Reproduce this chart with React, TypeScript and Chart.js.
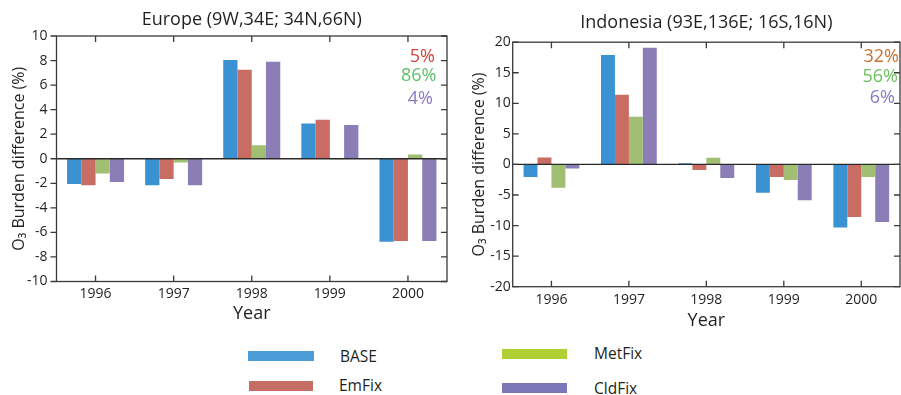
import React, { useEffect, useRef } from "react";
import { Chart, registerables } from "chart.js";

Chart.register(...registerables);

// ---------- data ----------
const years = ["1996", "1997", "1998", "1999", "2000"];
const seriesNames = ["BASE", "EmFix", "MetFix", "CldFix"];

const europeBase = [-2.05, -2.15, 8.05, 2.87, -6.77];
const europeEmFix = [-2.15, -1.65, 7.25, 3.17, -6.7];
const europeMetFix = [-1.2, -0.3, 1.1, -0.05, 0.35];
const europeCldFix = [-1.9, -2.15, 7.9, 2.74, -6.7];

const indoBase = [-2.05, 17.9, 0.2, -4.65, -10.3];
const indoEmFix = [1.15, 11.4, -0.9, -2.05, -8.6];
const indoMetFix = [-3.8, 7.8, 1.1, -2.55, -2.05];
const indoCldFix = [-0.65, 19.1, -2.2, -5.85, -9.4];

const europeTitle = "Europe (9W,34E; 34N,66N)";
const indoTitle = "Indonesia (93E,136E; 16S,16N)";
const yTitle = "O\u2083 Burden difference (%)";
const xTitle = "Year";

const europeShares = ["5%", "86%", "4%"];
const europeShareColors = ["#d2413a", "#5cbf68", "#8a78c4"];
const indoShares = ["32%", "56%", "6%"];
const indoShareColors = ["#c8702e", "#6cc05c", "#8a78c4"];

const barColors = ["#3b92d2", "#c86c64", "#a1bf72", "#8b7db5"];
const legendColors = ["#4a9bd6", "#c66d66", "#b0d136", "#7b77b8"];

const FONT = "'Open Sans', 'Noto Sans', sans-serif";
const TEXT = "#231f20";

const framePlugin = {
  id: "frame",
  afterDatasetsDraw(chart: any, _args: any, opts: any) {
    const { ctx, chartArea: a, scales } = chart;
    const xs = scales.x;
    const ys = scales.y;
    ctx.save();
    ctx.lineWidth = 1.3;
    ctx.strokeStyle = "#2a2a2a";
    const zy = ys.getPixelForValue(0);
    ctx.beginPath();
    ctx.moveTo(a.left, zy);
    ctx.lineTo(a.right, zy);
    ctx.stroke();

    ctx.strokeStyle = "#3a3a3a";
    ctx.strokeRect(a.left, a.top, a.right - a.left, a.bottom - a.top);
    const tl = 6;
    ys.ticks.forEach((t: any) => {
      const py = ys.getPixelForValue(t.value);
      ctx.beginPath();
      if (opts.yTickOut) {
        ctx.moveTo(a.left - tl, py);
        ctx.lineTo(a.left, py);
      } else {
        ctx.moveTo(a.left, py);
        ctx.lineTo(a.left + tl, py);
      }
      ctx.moveTo(a.right - tl, py);
      ctx.lineTo(a.right, py);
      ctx.stroke();
    });
    xs.ticks.forEach((_t: any, i: number) => {
      const px = xs.getPixelForValue(i);
      ctx.beginPath();
      ctx.moveTo(px, a.bottom);
      ctx.lineTo(px, a.bottom - tl);
      ctx.moveTo(px, a.top);
      ctx.lineTo(px, a.top + tl);
      ctx.stroke();
    });

    ctx.font = `18px ${FONT}`;
    ctx.textAlign = "right";
    ctx.textBaseline = "middle";
    (opts.shares || []).forEach((s: string, i: number) => {
      ctx.fillStyle = opts.shareColors[i];
      ctx.fillText(s, a.right - opts.shareRight[i], opts.shareY[i]);
    });
    ctx.restore();
  },
};

type PanelCfg = {
  title: string;
  values: number[][];
  min: number;
  max: number;
  step: number;
  titlePad: { top: number; bottom: number };
  yWidth: number;
  xHeight: number;
  padRight: number;
  yTitlePad: number;
  yTickPad: number;
  yTickOut: boolean;
  xTickPad: number;
  xTitlePadBottom: number;
  catPct: number;
  shares: string[];
  shareColors: string[];
  shareRight: number[];
  shareY: number[];
};

function Panel({ cfg, width, height, left }: { cfg: PanelCfg; width: number; height: number; left: number }) {
  const ref = useRef<HTMLCanvasElement | null>(null);
  useEffect(() => {
    if (!ref.current) return;
    const chart = new Chart(ref.current, {
      type: "bar",
      data: {
        labels: years,
        datasets: cfg.values.map((v, i) => ({
          label: seriesNames[i],
          data: v,
          backgroundColor: barColors[i],
          borderWidth: 0,
          barPercentage: 1,
          categoryPercentage: cfg.catPct,
        })),
      },
      options: {
        responsive: false,
        animation: false,
        devicePixelRatio: 1,
        layout: { padding: { left: 0, right: cfg.padRight, top: 0, bottom: 0 } },
        plugins: {
          legend: { display: false },
          tooltip: { enabled: false },
          title: {
            display: true,
            text: cfg.title,
            fullSize: false,
            color: TEXT,
            font: { family: FONT, size: 18, weight: "normal", lineHeight: 1.2 },
            padding: cfg.titlePad,
          },
          frame: {
            yTickOut: cfg.yTickOut,
            shares: cfg.shares,
            shareColors: cfg.shareColors,
            shareRight: cfg.shareRight,
            shareY: cfg.shareY,
          },
        } as any,
        scales: {
          x: {
            grid: { display: false, drawTicks: false },
            border: { display: false },
            ticks: { color: TEXT, font: { family: FONT, size: 14 }, padding: cfg.xTickPad, maxRotation: 0 },
            title: {
              display: true,
              text: xTitle,
              color: TEXT,
              font: { family: FONT, size: 18, lineHeight: 1.2 },
              padding: { top: 0, bottom: cfg.xTitlePadBottom },
            },
            afterFit: (s: any) => {
              s.height = cfg.xHeight;
            },
          },
          y: {
            min: cfg.min,
            max: cfg.max,
            grid: { display: false, drawTicks: false },
            border: { display: false },
            ticks: {
              stepSize: cfg.step,
              color: TEXT,
              font: { family: FONT, size: 14 },
              padding: cfg.yTickPad,
            },
            title: {
              display: true,
              text: yTitle,
              color: TEXT,
              font: { family: FONT, size: 16, lineHeight: 1.2 },
              padding: { top: cfg.yTitlePad, bottom: 0 },
            },
            afterFit: (s: any) => {
              s.width = cfg.yWidth;
            },
          },
        },
      },
      plugins: [framePlugin],
    });
    return () => chart.destroy();
  }, [cfg]);
  return (
    <canvas
      ref={ref}
      width={width}
      height={height}
      style={{ position: "absolute", left, top: 0, width, height }}
    />
  );
}

const europeCfg: PanelCfg = {
  title: europeTitle,
  values: [europeBase, europeEmFix, europeMetFix, europeCldFix],
  min: -10,
  max: 10,
  step: 2,
  titlePad: { top: 9, bottom: 5.4 },
  yWidth: 56.5,
  xHeight: 48.5,
  padRight: 3,
  yTitlePad: 9.4,
  yTickPad: 9,
  yTickOut: true,
  xTickPad: 4.5,
  xTitlePadBottom: 5.5,
  catPct: 0.73,
  shares: europeShares,
  shareColors: europeShareColors,
  shareRight: [12, 10.5, 14],
  shareY: [57, 76, 99],
};

const indoCfg: PanelCfg = {
  title: indoTitle,
  values: [indoBase, indoEmFix, indoMetFix, indoCldFix],
  min: -20,
  max: 20,
  step: 5,
  titlePad: { top: 12, bottom: 8.6 },
  yWidth: 62.7,
  xHeight: 48.3,
  padRight: 1,
  yTitlePad: 19.4,
  yTickPad: 2,
  yTickOut: false,
  xTickPad: 4.5,
  xTitlePadBottom: 3.8,
  catPct: 0.72,
  shares: indoShares,
  shareColors: indoShareColors,
  shareRight: [1, 2, 5],
  shareY: [57, 77, 98],
};

const legendLayout = [
  { sx: 248, sy: 351, sw: 66, tx: 340, ty: 356 },
  { sx: 249, sy: 381, sw: 64, tx: 339, ty: 385.5 },
  { sx: 502, sy: 349, sw: 65, tx: 594, ty: 353 },
  { sx: 502, sy: 383, sw: 65, tx: 594, ty: 388 },
];

export default function App() {
  return (
    <div
      style={{
        position: "fixed",
        left: 0,
        top: 0,
        width: 901,
        height: 395,
        background: "#ffffff",
        overflow: "hidden",
        fontFamily: FONT,
      }}
    >
      <Panel cfg={europeCfg} width={450} height={330} left={0} />
      <Panel cfg={indoCfg} width={451} height={335} left={450} />
      {seriesNames.map((name, i) => {
        const p = legendLayout[i];
        return (
          <React.Fragment key={name}>
            <div
              style={{
                position: "absolute",
                left: p.sx,
                top: p.sy,
                width: p.sw,
                height: 10,
                background: legendColors[i],
              }}
            />
            <div
              style={{
                position: "absolute",
                left: p.tx,
                top: p.ty - 10.5,
                height: 20,
                lineHeight: "20px",
                fontSize: 15.5,
                color: TEXT,
                whiteSpace: "nowrap",
              }}
            >
              {name}
            </div>
          </React.Fragment>
        );
      })}
    </div>
  );
}
